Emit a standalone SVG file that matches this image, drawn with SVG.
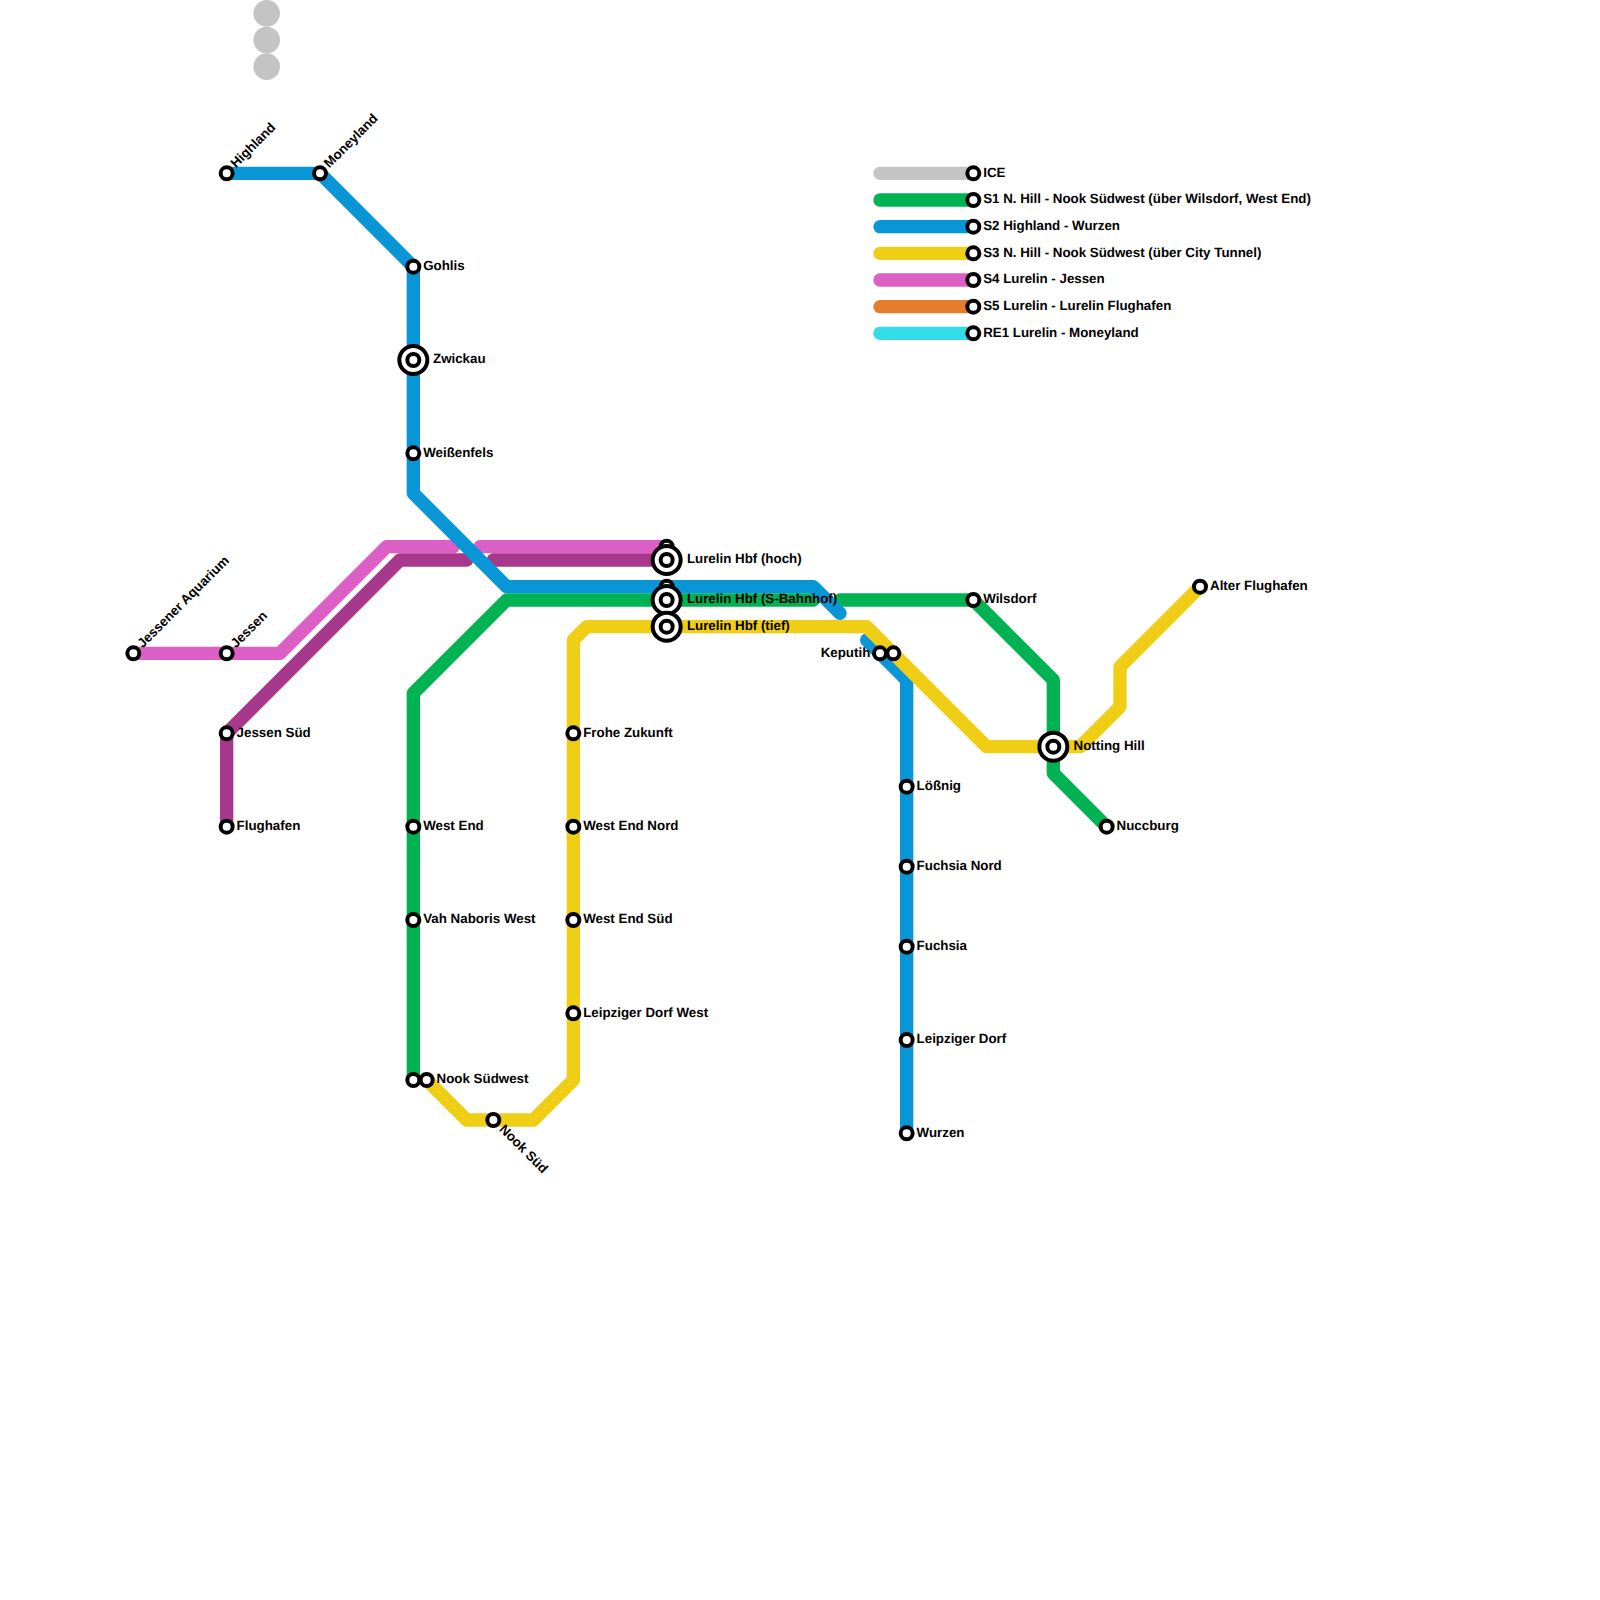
<svg xmlns="http://www.w3.org/2000/svg" width="1600" height="1600" viewBox="0 0 1600 1600">
<style>
.l{fill:none;stroke-width:13.33;stroke-linecap:round;stroke-linejoin:round}
.ice{stroke:#c4c4c4}.s1{stroke:#00b251}.s2{stroke:#0896d7}.s3{stroke:#f0ce15}.s4{stroke:#dc5fc6}.s4b{stroke:#a8388c}.s5{stroke:#e67d2d}.re{stroke:#32dde9}
.st{fill:#fff;stroke:#000;stroke-width:4}
.big{fill:#fff;stroke:#000;stroke-width:4}
text{font-family:"Liberation Sans",Arial,sans-serif;font-weight:700;font-size:13.33px;fill:#000;text-rendering:geometricPrecision}
.g{fill:#c4c4c4}
</style>
<defs>
<g id="s"><circle class="st" r="6"/></g>
<g id="b"><circle class="big" r="14"/><circle class="st" r="6"/></g>
</defs>
<g id="ice-dots">
<circle class="g" cx="266.67" cy="13.33" r="13.33"/>
<circle class="g" cx="266.67" cy="40" r="13.33"/>
<circle class="g" cx="266.67" cy="66.67" r="13.33"/>
</g>
<g id="connectors">
<path class="l s4" d="M133.33 653.33H280L386.67 546.67H453.33"/>
<path class="l s4" d="M480 546.67H666.67"/>
<path class="l s4b" d="M226.67 826.67V733.33L400 560H466.67"/>
<path class="l s4b" d="M493.33 560H666.67"/>
<path class="l s1" d="M413.33 1080V693.33L506.67 600H813.33"/>
<path class="l s1" d="M840 600H973.33L1053.33 680V773.33L1106.67 826.67"/>
<path class="l s2" d="M226.67 173.33H320L413.33 266.67V493.33L506.67 586.67H813.33L840 613.33"/>
<path class="l s2" d="M866.67 640L906.67 680V1133.33"/>
<path class="l s3" d="M426.67 1080L466.67 1120H533.33L573.33 1080V640L586.67 626.67H866.67L986.67 746.67H1080L1120 706.67V666.67L1200 586.67"/>
<path class="l ice" d="M880 173.33H973.33"/>
<path class="l s1" d="M880 200H973.33"/>
<path class="l s2" d="M880 226.67H973.33"/>
<path class="l s3" d="M880 253.33H973.33"/>
<path class="l s4" d="M880 280H973.33"/>
<path class="l s5" d="M880 306.67H973.33"/>
<path class="l re" d="M880 333.33H973.33"/>
</g>
<g id="stations">
<g id="n-highland"><use href="#s" x="226.67" y="173.33"/><text transform="translate(236,168.5) rotate(-45)">Highland</text></g>
<g id="n-moneyland"><use href="#s" x="320" y="173.33"/><text transform="translate(329.33,168.5) rotate(-45)">Moneyland</text></g>
<g id="n-gohlis"><use href="#s" x="413.33" y="266.67"/><text x="423.2" y="270">Gohlis</text></g>
<g id="n-zwickau"><use href="#b" x="413.33" y="360"/><text x="433" y="363.3">Zwickau</text></g>
<g id="n-weissenfels"><use href="#s" x="413.33" y="453.33"/><text x="423.2" y="456.7">Weißenfels</text></g>
<g id="n-aquarium"><use href="#s" x="133.33" y="653.33"/><text transform="translate(142.67,648.5) rotate(-45)">Jessener Aquarium</text></g>
<g id="n-jessen"><use href="#s" x="226.67" y="653.33"/><text transform="translate(236,648.5) rotate(-45)">Jessen</text></g>
<g id="n-jessen-sued"><use href="#s" x="226.67" y="733.33"/><text x="236.6" y="736.7">Jessen Süd</text></g>
<g id="n-flughafen"><use href="#s" x="226.67" y="826.67"/><text x="236.6" y="830">Flughafen</text></g>
<g id="n-west-end"><use href="#s" x="413.33" y="826.67"/><text x="423.2" y="830">West End</text></g>
<g id="n-vah"><use href="#s" x="413.33" y="920"/><text x="423.2" y="923.3">Vah Naboris West</text></g>
<g id="n-nook-sw-a"><use href="#s" x="413.33" y="1080"/></g>
<g id="n-nook-sw"><use href="#s" x="426.67" y="1080"/><text x="436.6" y="1083.3">Nook Südwest</text></g>
<g id="n-nook-sued"><use href="#s" x="493.33" y="1120"/><text transform="translate(498.6,1130) rotate(45)">Nook Süd</text></g>
<g id="n-frohe"><use href="#s" x="573.33" y="733.33"/><text x="583.2" y="736.7">Frohe Zukunft</text></g>
<g id="n-wen"><use href="#s" x="573.33" y="826.67"/><text x="583.2" y="830">West End Nord</text></g>
<g id="n-wes"><use href="#s" x="573.33" y="920"/><text x="583.2" y="923.3">West End Süd</text></g>
<g id="n-ldw"><use href="#s" x="573.33" y="1013.33"/><text x="583.2" y="1016.7">Leipziger Dorf West</text></g>
<g id="n-hbf-hoch"><use href="#s" x="666.67" y="546.67"/><use href="#b" x="666.67" y="560"/><text x="686.9" y="563.3">Lurelin Hbf (hoch)</text></g>
<g id="n-hbf-s"><use href="#s" x="666.67" y="586.67"/><use href="#b" x="666.67" y="600"/></g>
<g id="n-hbf-tief"><use href="#b" x="666.67" y="626.67"/><text x="686.9" y="630">Lurelin Hbf (tief)</text></g>
<text id="t-hbf-s" x="686.9" y="603.3">Lurelin Hbf (S-Bahnhof)</text>
<g id="n-keputih"><use href="#s" x="880" y="653.33"/><use href="#s" x="893.33" y="653.33"/><text x="870.3" y="656.7" text-anchor="end">Keputih</text></g>
<g id="n-loessnig"><use href="#s" x="906.67" y="786.67"/><text x="916.6" y="790">Lößnig</text></g>
<g id="n-fuchsia-nord"><use href="#s" x="906.67" y="866.67"/><text x="916.6" y="870">Fuchsia Nord</text></g>
<g id="n-fuchsia"><use href="#s" x="906.67" y="946.67"/><text x="916.6" y="950">Fuchsia</text></g>
<g id="n-leipziger"><use href="#s" x="906.67" y="1040"/><text x="916.6" y="1043.3">Leipziger Dorf</text></g>
<g id="n-wurzen"><use href="#s" x="906.67" y="1133.33"/><text x="916.6" y="1136.7">Wurzen</text></g>
<g id="n-wilsdorf"><use href="#s" x="973.33" y="600"/><text x="983.2" y="603.3">Wilsdorf</text></g>
<g id="n-notting"><use href="#b" x="1053.33" y="746.67"/><text x="1073.6" y="750">Notting Hill</text></g>
<g id="n-nuccburg"><use href="#s" x="1106.67" y="826.67"/><text x="1116.6" y="830">Nuccburg</text></g>
<g id="n-alter"><use href="#s" x="1200" y="586.67"/><text x="1210" y="590">Alter Flughafen</text></g>
</g>
<g id="legend">
<g id="lg-ice"><use href="#s" x="973.33" y="173.33"/><text x="983.2" y="176.7">ICE</text></g>
<g id="lg-s1"><use href="#s" x="973.33" y="200"/><text x="983.2" y="203.3">S1 N. Hill - Nook Südwest (über Wilsdorf, West End)</text></g>
<g id="lg-s2"><use href="#s" x="973.33" y="226.67"/><text x="983.2" y="230">S2 Highland - Wurzen</text></g>
<g id="lg-s3"><use href="#s" x="973.33" y="253.33"/><text x="983.2" y="256.7">S3 N. Hill - Nook Südwest (über City Tunnel)</text></g>
<g id="lg-s4"><use href="#s" x="973.33" y="280"/><text x="983.2" y="283.3">S4 Lurelin - Jessen</text></g>
<g id="lg-s5"><use href="#s" x="973.33" y="306.67"/><text x="983.2" y="310">S5 Lurelin - Lurelin Flughafen</text></g>
<g id="lg-re1"><use href="#s" x="973.33" y="333.33"/><text x="983.2" y="336.7">RE1 Lurelin - Moneyland</text></g>
</g>
</svg>
